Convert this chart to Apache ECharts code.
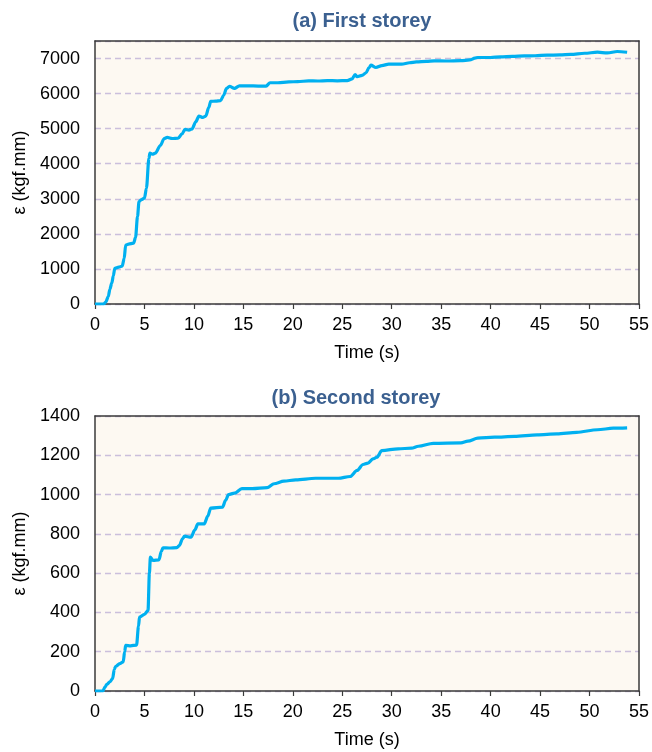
<!DOCTYPE html>
<html>
<head>
<meta charset="utf-8">
<script src="https://cdn.jsdelivr.net/npm/echarts@6/dist/echarts.min.js"></script>
<style>
  html, body { margin: 0; padding: 0; background: #ffffff; }
  #chart { width: 652px; height: 752px; }
</style>
</head>
<body>
<div id="chart"></div>
<script>
// Cumulative input energy over time, first storey
const timeA = [0, 0.9, 1.1, 1.35, 1.5, 1.7, 1.85, 2.0, 2.4, 2.75, 2.95, 3.1, 3.4, 3.9, 4.1, 4.3, 4.45, 4.7, 5.0, 5.2, 5.45, 5.55, 5.8, 6.1, 6.6, 7.0, 7.3, 7.8, 8.4, 8.8, 9.1, 9.5, 9.8, 10.2, 10.5, 10.9, 11.2, 11.5, 11.7, 12.2, 12.7, 13.0, 13.3, 13.6, 14.1, 14.6, 15.5, 16.5, 17.3, 17.7, 18.5, 19.6, 20.5, 21.6, 22.5, 23.5, 24.5, 25.5, 26.0, 26.3, 26.5, 27.0, 27.4, 27.7, 27.9, 28.4, 29.0, 29.7, 31.0, 31.8, 32.5, 33.5, 34.3, 35.5, 37.0, 37.9, 38.4, 38.7, 40.0, 41.0, 42.2, 43.4, 44.5, 45.7, 47.0, 48.1, 49.5, 50.8, 51.8, 52.8, 53.8];
const energyA = [0, 0, 60, 220, 420, 600, 800, 1020, 1050, 1080, 1300, 1680, 1710, 1735, 1900, 2500, 2920, 2980, 3020, 3300, 4150, 4300, 4270, 4300, 4520, 4720, 4750, 4720, 4730, 4850, 4980, 4960, 4990, 5200, 5360, 5320, 5360, 5600, 5780, 5785, 5800, 5950, 6150, 6210, 6150, 6220, 6220, 6215, 6215, 6310, 6310, 6335, 6340, 6365, 6360, 6370, 6365, 6370, 6420, 6545, 6480, 6520, 6590, 6740, 6810, 6745, 6800, 6840, 6840, 6880, 6905, 6920, 6935, 6930, 6940, 6960, 7010, 7030, 7030, 7045, 7060, 7075, 7080, 7095, 7105, 7120, 7150, 7180, 7160, 7200, 7180];

// Cumulative input energy over time, second storey
const timeB = [0, 0.8, 1.0, 1.2, 1.5, 1.78, 1.95, 2.1, 2.5, 2.85, 3.0, 3.1, 3.6, 4.2, 4.4, 4.5, 5.0, 5.36, 5.5, 5.6, 5.86, 6.47, 6.7, 6.87, 7.5, 8.28, 8.54, 8.85, 9.05, 9.7, 10.1, 10.4, 11.05, 11.4, 11.7, 12.9, 13.2, 13.5, 14.1, 14.85, 15.9, 17.4, 18.1, 19.1, 20.3, 22.3, 24.6, 25.8, 26.5, 27.1, 27.6, 28.1, 28.5, 29.0, 30.65, 32.0, 32.7, 34.2, 37.0, 37.7, 38.7, 40.4, 42.4, 44.7, 46.7, 48.7, 50.8, 52.4, 53.8];
const energyB = [0, 0, 20, 34, 46, 63, 110, 126, 139, 148, 200, 232, 230, 234, 330, 376, 390, 410, 600, 682, 665, 668, 710, 729, 728, 730, 741, 775, 788, 783, 820, 851, 851, 890, 931, 936, 970, 1000, 1007, 1030, 1030, 1035, 1055, 1068, 1075, 1083, 1083, 1092, 1123, 1153, 1160, 1182, 1190, 1224, 1233, 1236, 1246, 1261, 1263, 1272, 1287, 1292, 1296, 1304, 1309, 1317, 1330, 1338, 1340];

const xTicks = { min: 0, max: 55, interval: 5 };
const panelTitles = ['(a) First storey', '(b) Second storey'];
const axisNameX = 'Time (s)';
const axisNameY = 'ε (kgf.mm)';

const FONT = 'Liberation Sans, Arial, sans-serif';
const LABEL_SIZE = 18;
const frameColor = '#3a3a3a';
const gridColor = '#cbbfdc';

const pairs = (xs, ys) => xs.map((x, i) => [x, ys[i]]);
const plain = v => String(v);

function bottomAxis(gridIndex) {
  return {
    type: 'value', gridIndex, min: xTicks.min, max: xTicks.max, interval: xTicks.interval,
    name: axisNameX, nameLocation: 'middle', nameGap: 40,
    nameTextStyle: { fontFamily: FONT, fontSize: LABEL_SIZE, color: '#000' },
    axisLine: { show: true, onZero: false, lineStyle: { color: frameColor, width: 1.5 } },
    axisTick: { show: true, inside: false, length: 5, lineStyle: { color: frameColor, width: 1.2 } },
    axisLabel: { fontFamily: FONT, fontSize: LABEL_SIZE, color: '#000', margin: 12, formatter: plain },
    splitLine: { show: false }
  };
}
function topAxis(gridIndex) {
  return {
    type: 'value', gridIndex, position: 'top', min: xTicks.min, max: xTicks.max, z: 5,
    axisLine: { show: true, onZero: false, lineStyle: { color: frameColor, width: 1.5 } },
    axisTick: { show: false }, axisLabel: { show: false }, splitLine: { show: false }
  };
}
function leftAxis(gridIndex, max, interval) {
  return {
    type: 'value', gridIndex, min: 0, max, interval,
    name: axisNameY, nameLocation: 'middle', nameGap: 65,
    nameTextStyle: { fontFamily: FONT, fontSize: LABEL_SIZE, color: '#000' },
    axisLine: { show: true, onZero: false, lineStyle: { color: frameColor, width: 1.5 } },
    axisTick: { show: false },
    axisLabel: { fontFamily: FONT, fontSize: LABEL_SIZE, color: '#000', margin: 15,
                 showMaxLabel: max % interval === 0, formatter: plain },
    splitLine: { show: true, lineStyle: { color: gridColor, type: [6, 4], width: 1.3 } }
  };
}
function rightAxis(gridIndex, max) {
  return {
    type: 'value', gridIndex, position: 'right', min: 0, max, z: 5,
    axisLine: { show: true, onZero: false, lineStyle: { color: frameColor, width: 1.5 } },
    axisTick: { show: false }, axisLabel: { show: false }, splitLine: { show: false }
  };
}

const lineSeries = (idx, data) => ({
  type: 'line', xAxisIndex: idx, yAxisIndex: idx, data,
  showSymbol: false, smooth: 0.3, smoothMonotone: 'x',
  lineStyle: { color: '#00b0f0', width: 3.2 }, z: 3
});

const chart = echarts.init(document.getElementById('chart'), null, { renderer: 'canvas' });
chart.setOption({
  animation: false,
  backgroundColor: '#ffffff',
  title: [
    { text: panelTitles[0], left: 357, top: 6, textAlign: 'center',
      textStyle: { fontFamily: FONT, fontSize: 20, fontWeight: 'bold', color: '#3b6090' } },
    { text: panelTitles[1], left: 351, top: 383, textAlign: 'center',
      textStyle: { fontFamily: FONT, fontSize: 20, fontWeight: 'bold', color: '#3b6090' } }
  ],
  grid: [
    { left: 95, right: 9, top: 41, height: 263, show: true, backgroundColor: '#fdf9f2', borderWidth: 0 },
    { left: 95, right: 9, top: 416, height: 275, show: true, backgroundColor: '#fdf9f2', borderWidth: 0 }
  ],
  xAxis: [bottomAxis(0), bottomAxis(1), topAxis(0), topAxis(1)],
  yAxis: [leftAxis(0, 7500, 1000), leftAxis(1, 1400, 200), rightAxis(0, 7500), rightAxis(1, 1400)],
  series: [
    lineSeries(0, pairs(timeA, energyA)),
    lineSeries(1, pairs(timeB, energyB))
  ]
});
</script>
</body>
</html>
